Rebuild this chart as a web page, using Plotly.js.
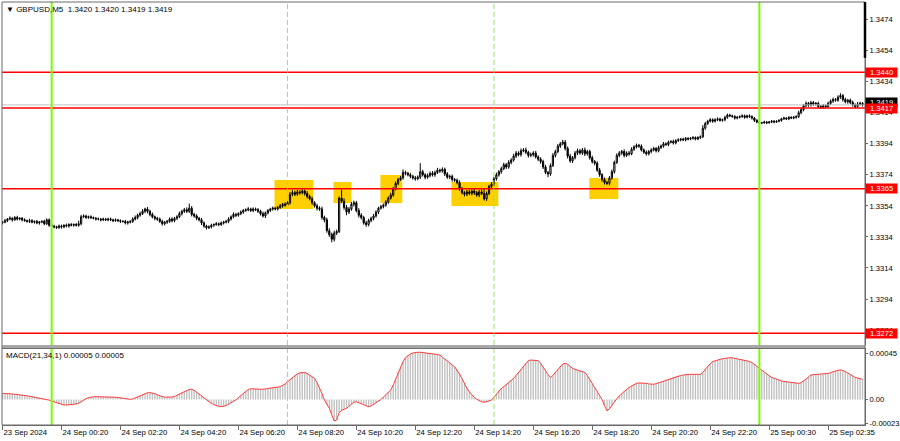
<!DOCTYPE html>
<html><head><meta charset="utf-8">
<script src="https://cdn.plot.ly/plotly-3.0.1.min.js"></script>
<style>html,body{margin:0;padding:0;background:#fff}#chart{width:900px;height:441px}</style>
</head><body><div id="chart"></div>
<script>
// GBPUSD M5, bar 0 = 23 Sep 22:20. Prices in pips above priceBase.
const priceBase = 1.33;
const firstOpen = 43.0;
const closes = [
43.5,44.5,45.5,46,45,46.5,45.5,46,45,44.5,
44,44.5,43.5,44,43,43.5,44,42.5,45,41.5,
41,40.5,40,41,40.5,41.5,41,42,41.5,42,
41.5,42.5,47,47.5,46.5,47,46.5,46,45.5,45.5,
45,45.5,45,45.5,45,44.5,45,44.5,44,44,
43,43.5,44,45.5,46.5,48,49,50.5,52,50.5,
48.5,47,46,45.5,44,42.5,43.5,44,45.5,44.5,
46,47,49,50.5,51.5,50.5,52.5,48.5,47.5,46,
45,43,41,40,40.5,41.5,42,42.5,42,43,
43.5,44,45.5,47,48.5,48,49,50,51,51.5,
52,51,52,51.5,50.5,49,47.5,49.5,51,52,
52.5,52,53,54,55,54.5,56,61.5,62.5,61.5,
63,62.5,63.5,62,60,58.5,56,54,52.5,52,
46.5,45,38,35.5,32.5,36.5,37.5,59,57,53,
50,52,55,56,51,48,46.5,43,42,44.5,
46,47.5,50,52.5,53.5,54.5,56.5,59,61,65,
68.5,71,72,75.5,75,74,73,72,71.5,72.5,
76,74,72.5,73.5,75,74,75.5,77,76.5,77.5,
74.5,72.5,73,71,70.5,69,65,62.5,61.5,63,
62,63.5,62.5,61,63,62,58.5,62,66.5,68,
71.5,74,76,78,80.5,79,82,83.5,86,88,
87,89.5,90,88.5,86.5,87,88,85.5,84,82.5,
79,75.5,74.5,80,86.5,89,92.5,94,95,91,
86,83,85,88,89.5,88,90,87.5,89,85,
82.5,81.5,77,74,71,69,68.5,72,76,82,
86.5,88,89,86.5,88,87.5,90.5,92,93,92.5,
90,88.5,87.5,89,90,91,89.5,91.5,92.5,94,
93.5,95,95.5,94.5,96,96.5,97,96.5,97.5,97,
97.5,98,97,98,98.5,104,107,108.5,109.5,108.5,
109.5,110,109,109.5,111,112.5,112,111.5,110.5,111,
111.5,112,111,112,111.5,110.5,109,108,107.5,107.5,
108,107.5,108,108.5,108,108.5,109,110,110.5,110,
111,110.5,111,111.5,114,116,118.5,120,119,120.5,
119.5,120,118,117.5,118.5,118,120,121.5,122.5,122,
124,125,122.5,121,122,120.5,119,118,119.5,120,
119];
const upperWick = [
0.8,1,0.6,1.2,0.7,0.9,1.1,0.6,0.8,1,
0.7,1.2,0.9,0.6,1,0.8,0.7,1.1,1,0.9,
1.2,0.8,0.7,1,0.9,0.6,1.1,0.8,0.9,0.7,
1,2,1.2,1,0.8,0.7,0.9,0.6,0.8,1,
0.7,0.9,0.6,0.8,1,0.7,0.9,0.6,0.8,0.7,
1,0.9,0.8,1.1,1.3,1,1.2,1.4,0.8,1.3,
1,1.2,0.8,0.9,1,1.1,0.7,0.9,1,1.2,
0.9,1,1.3,1,1.2,1.5,3,1.4,1,1.1,
0.9,1.2,1,0.8,0.9,1,0.7,1.1,0.8,1,
0.9,1,1.2,0.9,1.3,1,0.8,1.1,1,0.9,
1.2,0.8,1,0.9,1.1,1,1.3,0.9,1,0.8,
1.1,0.9,1,1.2,0.9,1.3,1,1.5,1.6,1.2,
1.4,1.1,1.3,1,1.5,1.2,1.4,1,1.3,1.2,
1.5,1.2,1.4,1.6,1.3,1.5,1.2,1,5.5,1.8,
1.5,1.3,1.6,1.4,1.2,1.5,1.3,1.1,1.4,1.2,
1,1.3,1.1,0.9,1.2,1,1.3,1.1,1.4,1.2,
1.3,1,1.2,2,1.1,0.9,1.2,1,1.3,1.1,
5.5,1.2,1,1.3,1.1,1.4,1.2,1.5,1,1.3,
1.1,1.3,1,1.2,0.9,1.1,1.4,1.2,1,1.3,
1.5,1.2,1.4,1.1,1.3,1.6,3,1.2,1,1.3,
1.1,1.4,1,1.2,1.3,1.1,1.4,1.2,1.5,1.3,
1.1,1.4,1.2,1.5,1,1.3,1.2,1.4,1.1,1.3,
1.2,1.4,1,1.3,1.5,1.2,1.3,1.1,1.5,1.4,
1.2,1.5,1.1,1.3,1.4,1.2,1.3,1.5,1.1,1.2,
1.3,1,1.2,1.4,1.1,1.3,1,1.2,1.4,1.1,
1.3,1.2,1,1.4,1.1,1.3,1.2,1,1.1,0.9,
1.1,1,1.2,0.9,1.1,1,0.8,1.2,1,1.1,
0.9,1,0.8,1.1,0.9,1,0.7,0.9,0.8,0.7,
0.8,0.9,0.7,0.8,0.9,2,1.1,0.9,1,0.8,
0.9,1,0.8,0.7,1,0.9,0.8,0.7,0.9,0.8,
0.7,0.9,0.8,0.7,0.9,0.8,0.7,0.9,0.8,0.6,
0.8,0.7,0.6,0.8,0.7,0.6,0.8,0.7,0.9,0.6,
0.8,0.7,0.9,0.8,1.2,1.1,1,1.2,0.9,1.1,
1,0.8,1.1,0.9,1,0.8,1.1,1,1.2,0.9,
1.2,1.5,1,1.2,0.9,1.1,1.3,1,1.4,1.1,
0.9];
const lowerWick = [
0.9,0.7,1,0.8,1.1,0.6,0.9,0.8,1,0.7,
0.8,1,0.7,0.9,0.8,1.1,0.6,0.9,0.8,1,
0.9,1,0.8,0.7,1.1,0.9,0.8,1,0.7,0.9,
0.8,0.9,1,0.7,0.9,0.8,1,0.7,0.9,0.8,
1,0.8,0.7,0.9,0.8,1,0.7,0.9,1,0.8,
0.9,1.1,0.8,1,0.9,1.2,1,0.9,1.1,1.3,
1.2,1,1.3,1.1,0.9,1.2,1,1.1,0.9,1.2,
1,1.1,0.9,1.2,1,1.1,1,1.3,1.1,1.2,
1,1.3,1.1,1.2,0.9,1.1,1,0.8,1.1,0.9,
1,0.8,1.1,0.9,1,1.2,0.9,1,1.1,0.8,
1,0.9,1.1,0.8,1,1.2,0.9,1.3,1,0.9,
1.1,0.8,1,0.9,1.2,1,0.9,1.1,1.3,1.2,
1,1.3,1.1,1.4,1.2,1,1.3,1.1,1.5,1.2,
1.4,1.6,1.3,1.5,2,1.4,1.2,1,1.3,1.5,
2,1.3,1.1,1.4,1.2,1.5,1.3,1.1,1.5,1.2,
1.1,1.3,1,1.2,0.9,1.1,1,1.2,0.9,1.1,
1,1.2,0.9,1.1,1.3,1,1.2,1.1,1.3,1,
1.2,1.1,1.4,1,1.2,1.1,1.3,1,1.2,1.1,
1.3,1.1,1.2,1.4,1,1.2,1.3,1.1,1.4,1.2,
1.1,1.3,1.5,1.2,1.4,1.1,1,1.3,1.1,1.2,
1,1.2,1.1,1.3,1,1.2,1.1,1.3,1,1.2,
1.1,1.3,1,1.2,1.4,1.1,1.3,1,1.2,1.4,
1.3,1.1,2,1.2,1,1.3,1.1,1.2,1,1.3,
1.5,1.2,1.4,1.1,1.3,1,1.2,1.4,1.1,1.3,
1.2,1.4,1.1,1.3,1.5,1.2,1,1.3,1.1,1.2,
1,1.2,1.1,1.3,1,1.2,0.9,1.1,1,1.2,
1,0.9,1.1,1,1.2,0.9,1.1,1,0.8,1,
0.9,1.1,0.8,1,0.9,0.8,1,0.7,0.9,0.8,
0.7,0.9,0.8,0.7,0.9,0.8,1,0.9,0.8,1,
0.8,0.9,0.7,0.8,1,0.9,0.8,0.7,0.9,0.8,
0.7,0.8,0.9,0.7,0.8,0.9,1,0.8,0.7,0.9,
0.7,0.8,0.6,0.7,0.8,0.6,0.7,0.8,0.6,0.7,
0.8,0.6,0.7,0.8,0.9,1,1.1,0.9,1.2,1,
1.1,0.9,1.2,1,0.8,1.1,0.9,1,1.2,0.9,
1,1.1,1.3,1,1.2,0.9,1.1,1.4,1,0.9,
1];
// MACD(21,34,1) per bar, in units of 0.00001
const macd = [
6,6,5.8,5.6,5.4,5.2,5,4.6,4.2,3.9,3.6,3.2,2.8,2.3,1.9,1.5,1.1,0.6,0.1,-0.6,
-1.5,-2.3,-3.1,-3.9,-4.7,-5.3,-5.4,-5.3,-5.1,-4.8,-4.3,-3.7,
-2,-0.6,0.8,1.8,2.4,2.7,2.8,2.8,2.8,2.7,2.6,2.6,2.5,2.4,2.2,2,
1.6,1.1,0.6,0.2,0.2,0.5,1.5,2.8,4,5,6,
6.6,6.7,6.4,5.7,4.7,3.6,2.8,2.3,2.1,2.1,2.4,3,
4.2,5.4,6.8,8,9.2,9.9,10,9,7.2,5.3,
3.2,1.4,-0.5,-2.2,-3.8,-5,-6,-6.7,-7,-6.8,-5.9,-4.7,-3.3,-2,
-0.3,1.8,4,6.2,8.2,9.8,10.5,10.6,10.3,10.2,
10,10,10.3,10.8,11.3,11.6,11.9,12.2,12.5,13.5,15.2,17.4,
19.5,21.6,23.5,25,26.1,26.6,26.4,25.4,24,22.5,20.7,
16.5,11.5,6,-0.5,-5,-8.6,-15,-21,
-20,-13,-10.5,-9.5,-8.6,-6.5,-4.5,-2.5,-2.3,-3,-3.7,
-5,-6.2,-7,-6.3,-5,-3.3,-1.6,0,2.2,4.8,7.2,9.3,
14,20,26,32,37,41,43,44.5,45.5,46,46.2,46.2,
46,45.8,45.5,45,44.5,44.3,44,43.5,41.5,39.5,37,35.5,33.8,
32,29,25,20.5,15.5,11,7.5,4.5,2,0.3,-1.2,-2.2,-2.7,
-2.3,-1.5,-0.5,2.2,5.5,8.5,10.8,12.5,14.5,16.5,18.7,20.7,
23.5,26.5,29.5,32.5,35.5,38,38.6,38.6,38.3,38,35.5,31.5,27.5,24.3,
21.7,23.5,26.5,29.5,32.5,34.8,35.4,34.5,32.5,30.5,29.5,28.8,28.3,27.9,
26.5,23.5,19.5,15,11,7,3,0,-6,-11,-9,-5.5,-2,0.8,3.5,6,
8,10,11.8,13.2,14.8,15.8,16.2,16.2,16,15.8,15.3,15,14.9,
15.5,16.3,17.2,18,19,20,20.8,21.7,22.4,23,23.5,24,24.4,
24.6,24.6,24.6,24.6,24.6,24.6,26.5,29.5,32.5,35,
37,38,38.7,39.3,39.8,40.3,40.7,40.9,40.8,40.3,39.7,39.2,38.8,38.4,38,
37.2,36,34.5,32.5,30.5,28.5,26.5,24.8,23.2,21.7,20.6,19.6,18.8,18.1,
17.6,17.2,16.8,16.5,16.2,16,15.8,16.5,18,20,22,24,
24.3,24.5,24.6,24.6,24.8,25.1,25.5,26.3,27.2,28,28.6,28.9,
28.5,27.3,25.8,24,22.3,21.6,21,20.4,19.8];

const tickBars = [0,24,48,72,96,120,144,168,192,216,240,264,288,312,336];
const tickLabels = ['23 Sep 2024','24 Sep 00:20','24 Sep 02:20','24 Sep 04:20','24 Sep 06:20','24 Sep 08:20','24 Sep 10:20','24 Sep 12:20','24 Sep 14:20','24 Sep 16:20','24 Sep 18:20','24 Sep 20:20','24 Sep 22:20','25 Sep 00:30','25 Sep 02:35'];
const levels = [1.3440, 1.3417, 1.3365, 1.3272];
const levelLabels = ['1.3440','1.3417','1.3365','1.3272'];
const bidPrice = 1.3419;
const dayLines = [20, 308];
const sessionLines = [116, 200];
const zoneStart = [110.7, 134.7, 153.8, 182.7, 238.8];
const zoneEnd   = [126.5, 142.0, 162.7, 201.8, 250.6];
const zoneLow   = [1.33520, 1.33558, 1.33558, 1.33539, 1.33584];
const zoneHigh  = [1.33707, 1.33694, 1.33739, 1.33694, 1.33719];
const macdTicks = [0.00045, 0, -0.00023];
const macdTickText = ['0.00045','0.00','-0.00023'];

const toPrice = v => +(priceBase + v / 10000).toFixed(5);
const idx = closes.map((_, i) => i);
const openP = closes.map((c, i) => toPrice(i === 0 ? firstOpen : closes[i - 1]));
const closeP = closes.map(toPrice);
const highP = closeP.map((c, i) => +(Math.max(c, openP[i]) + upperWick[i] / 10000).toFixed(5));
const lowP = closeP.map((c, i) => +(Math.min(c, openP[i]) - lowerWick[i] / 10000).toFixed(5));
const macdV = macd.map(v => v * 1e-5);
const macdX = macd.map((_, i) => i);

const FONT = 'Liberation Sans, Arial, DejaVu Sans, sans-serif';
const AX = '#6a6a6a';
const FS = 7.6;

const traces = [
  {type:'candlestick', x: idx, open: openP, high: highP, low: lowP, close: closeP,
   xaxis:'x', yaxis:'y', whiskerwidth: 0, hoverinfo:'skip',
   increasing:{line:{color:'#000', width:1}, fillcolor:'#ffffff'},
   decreasing:{line:{color:'#000', width:1}, fillcolor:'#000000'}},
  {type:'bar', x: macdX, y: macdV, xaxis:'x', yaxis:'y2', hoverinfo:'skip',
   marker:{color:'#c0c0c0', line:{width:0}}},
  {type:'scatter', mode:'lines', x: macdX, y: macdV, xaxis:'x', yaxis:'y2', hoverinfo:'skip',
   line:{color:'#ff3b3b', width:1}}
];

const shapes = [];
zoneStart.forEach((s, k) => shapes.push({type:'rect', xref:'x', yref:'y', x0:s, x1:zoneEnd[k], y0:zoneLow[k], y1:zoneHigh[k], fillcolor:'rgb(255,208,0)', line:{width:0}, layer:'below'}));
levels.forEach(l => shapes.push({type:'line', xref:'paper', yref:'y', x0:0, x1:1, y0:l, y1:l, line:{color:'#ff0000', width:1.4}}));
shapes.push({type:'line', xref:'paper', yref:'y', x0:0, x1:1, y0:bidPrice, y1:bidPrice, line:{color:'#c0c0c0', width:1}});
dayLines.forEach(d => shapes.push({type:'line', xref:'x', yref:'paper', x0:d, x1:d, y0:0, y1:1, line:{color:'#7cfc00', width:2}}));
sessionLines.forEach(d => shapes.push({type:'line', xref:'x', yref:'paper', x0:d, x1:d, y0:0, y1:1, line:{color:'rgb(150,232,80)', width:1, dash:'5px,3px'}}));
shapes.push({type:'rect', xref:'paper', yref:'paper', x0:0, x1:1, y0:0.1809, y1:0.1891, fillcolor:'#a8a8a8', line:{width:0}});
shapes.push({type:'line', xref:'paper', yref:'paper', x0:0, x1:1, y0:0.1809, y1:0.1809, line:{color:'#707070', width:1}});
shapes.push({type:'rect', xref:'paper', yref:'paper', x0:0, x1:1, y0:0, y1:1, line:{color:AX, width:1}, fillcolor:'rgba(0,0,0,0)'});
shapes.push({type:'line', xref:'paper', yref:'paper', x0:1, x1:1, y0:0.868, y1:1, line:{color:'#000', width:2.5}});

const annotations = [
  {xref:'paper', yref:'paper', x:0, y:1, xanchor:'left', yanchor:'top', xshift:2, yshift:-1, showarrow:false,
   text:'▼ GBPUSD,M5  1.3420 1.3420 1.3419 1.3419', font:{family:FONT, size:8, color:'#000'}},
  {xref:'paper', yref:'paper', x:0, y:0.1809, xanchor:'left', yanchor:'top', xshift:2, yshift:-1, showarrow:false,
   text:'MACD(21,34,1) 0.00005 0.00005', font:{family:FONT, size:8, color:'#000'}},
  {xref:'paper', yref:'y', x:1, y:bidPrice, xanchor:'left', yanchor:'middle', xshift:0, yshift:2, showarrow:false,
   width:31, height:9, align:'center', valign:'middle', borderpad:0,
   text:bidPrice.toFixed(4), bgcolor:'#000', font:{family:FONT, size:FS, color:'#fff'}}
];
levels.forEach((l, k) => annotations.push({xref:'paper', yref:'y', x:1, y:l, xanchor:'left', yanchor:'middle', xshift:0, showarrow:false,
  width:31, height:9, align:'center', valign:'middle', borderpad:0,
  text:levelLabels[k], bgcolor:'#ff0000', font:{family:FONT, size:FS, color:'#fff'}}));

const layout = {
  width:900, height:441, margin:{l:2, r:35, t:2, b:16},
  paper_bgcolor:'#fff', plot_bgcolor:'#fff', showlegend:false, hovermode:false, dragmode:false,
  bargap:0.45,
  xaxis:{domain:[0,1], range:[-0.2, 351], anchor:'y2', showgrid:false, zeroline:false,
    showline:true, linecolor:AX, linewidth:1, ticks:'outside', ticklen:4, tickcolor:AX,
    tickvals:tickBars, ticktext:tickLabels, ticklabelposition:'outside right',
    tickfont:{family:FONT, size:7.7, color:'#000'}, rangeslider:{visible:false}, fixedrange:true, automargin:false},
  yaxis:{domain:[0.1891,1], range:[1.326441, 1.348527], side:'right', anchor:'x', showgrid:false, zeroline:false,
    showline:true, linecolor:AX, ticks:'outside', ticklen:2, tickcolor:AX, tick0:1.3274, dtick:0.002, tickformat:'.4f',
    tickfont:{family:FONT, size:FS, color:'#000'}, fixedrange:true, automargin:false},
  yaxis2:{domain:[0,0.1809], range:[-0.000249, 0.000499], side:'right', anchor:'x', showgrid:false, zeroline:false,
    showline:true, linecolor:AX, ticks:'outside', ticklen:2, tickcolor:AX, tickvals:macdTicks, ticktext:macdTickText,
    tickfont:{family:FONT, size:FS, color:'#000'}, fixedrange:true, automargin:false},
  shapes: shapes, annotations: annotations
};
Plotly.newPlot('chart', traces, layout, {staticPlot:true, displayModeBar:false});
</script></body></html>
